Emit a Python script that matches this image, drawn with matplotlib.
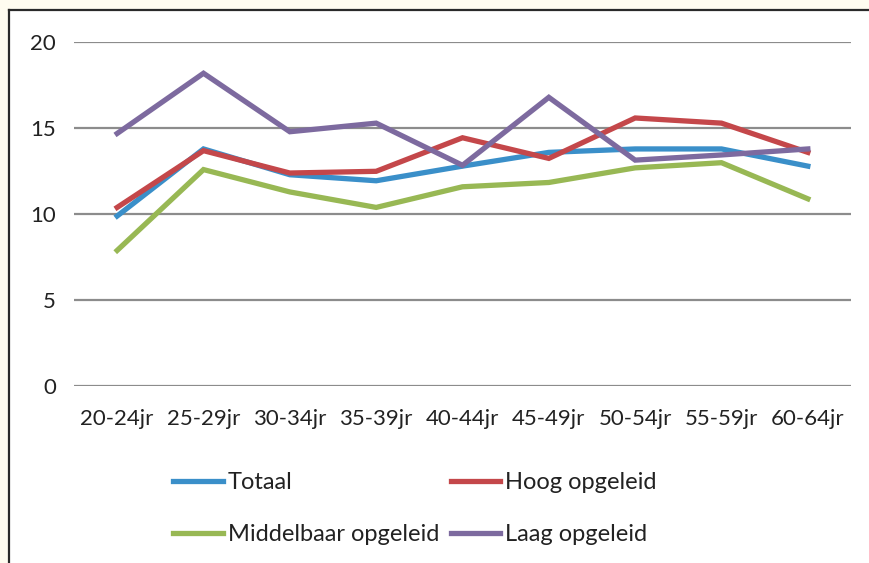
import numpy as np
import matplotlib
matplotlib.use("Agg")
import matplotlib.pyplot as plt
from matplotlib.lines import Line2D
from matplotlib.patches import Rectangle

plt.rcParams['font.family'] = ['Lato', 'DejaVu Sans']

# leeftijdsgroepen en percentages per opleidingsniveau
leeftijd = ["20-24jr", "25-29jr", "30-34jr", "35-39jr", "40-44jr",
            "45-49jr", "50-54jr", "55-59jr", "60-64jr"]
totaal = [9.9, 13.8, 12.3, 11.95, 12.8, 13.6, 13.8, 13.8, 12.8]
hoog = [10.4, 13.7, 12.4, 12.5, 14.45, 13.25, 15.6, 15.3, 13.6]
middelbaar = [7.9, 12.6, 11.3, 10.4, 11.6, 11.85, 12.7, 13.0, 10.9]
laag = [14.7, 18.2, 14.8, 15.3, 12.85, 16.8, 13.15, 13.45, 13.8]

series = [
    ("Totaal", totaal, "#3a8fc9"),
    ("Hoog opgeleid", hoog, "#c4474a"),
    ("Middelbaar opgeleid", middelbaar, "#98b854"),
    ("Laag opgeleid", laag, "#7d6a9f"),
]

fig = plt.figure(figsize=(8.69, 5.63), dpi=100)
fig.patch.set_facecolor("white")
W, H = 869, 563
# crèmekleurige strook links en boven, met donkere rand
creme = "#fffcf0"
fig.patches.append(Rectangle((0, 0), 8.5 / W, 1, transform=fig.transFigure,
                             facecolor=creme, edgecolor="none", zorder=0))
fig.patches.append(Rectangle((0, 1 - 9.5 / H), 1, 9.5 / H, transform=fig.transFigure,
                             facecolor=creme, edgecolor="none", zorder=0))
fig.lines.append(Line2D([8.5 / W, 8.5 / W], [0, 1 - 9.5 / H], transform=fig.transFigure,
                        color="#2a2a2a", lw=1.6))
fig.lines.append(Line2D([8.5 / W, 1], [1 - 9.5 / H, 1 - 9.5 / H], transform=fig.transFigure,
                        color="#2a2a2a", lw=1.6))

ax = fig.add_axes([74 / W, 1 - 386.3 / H, (851 - 74) / W, (386.3 - 42.3) / H])
ax.set_zorder(2)
ax.set_facecolor("none")
x = np.arange(len(leeftijd))
lijnen = {}
for naam, waarden, kleur in series:
    lijnen[naam], = ax.plot(x, waarden, color=kleur, lw=3.8, label=naam,
                            solid_joinstyle="miter", zorder=3)

ax.set_xlim(-0.5, len(leeftijd) - 0.5)
ax.set_ylim(0, 20)
ax.set_yticks([0, 5, 10, 15, 20])
ax.yaxis.grid(True, color="#8c8c8c", lw=1.6)
ax.set_axisbelow(True)
for s in ax.spines.values():
    s.set_visible(False)
ax.set_xticks(x)
ax.set_xticklabels(leeftijd)
ax.tick_params(axis="both", length=0, labelsize=16, colors="#222222")
ax.tick_params(axis="x", pad=16)
ax.tick_params(axis="y", pad=13)

# legenda rij voor rij: Totaal, Hoog / Middelbaar, Laag
volgorde = ["Totaal", "Middelbaar opgeleid", "Hoog opgeleid", "Laag opgeleid"]
leg = fig.legend([lijnen[n] for n in volgorde], volgorde, ncol=2, frameon=False,
                 loc="upper left", bbox_to_anchor=(152 / W, 1 - 451 / H), fontsize=17,
                 handlelength=2.1, handletextpad=0.2, columnspacing=0.5,
                 labelspacing=1.3)
for t in leg.get_texts():
    t.set_color("#222222")

fig.savefig("out.png", dpi=100, facecolor=fig.get_facecolor())
